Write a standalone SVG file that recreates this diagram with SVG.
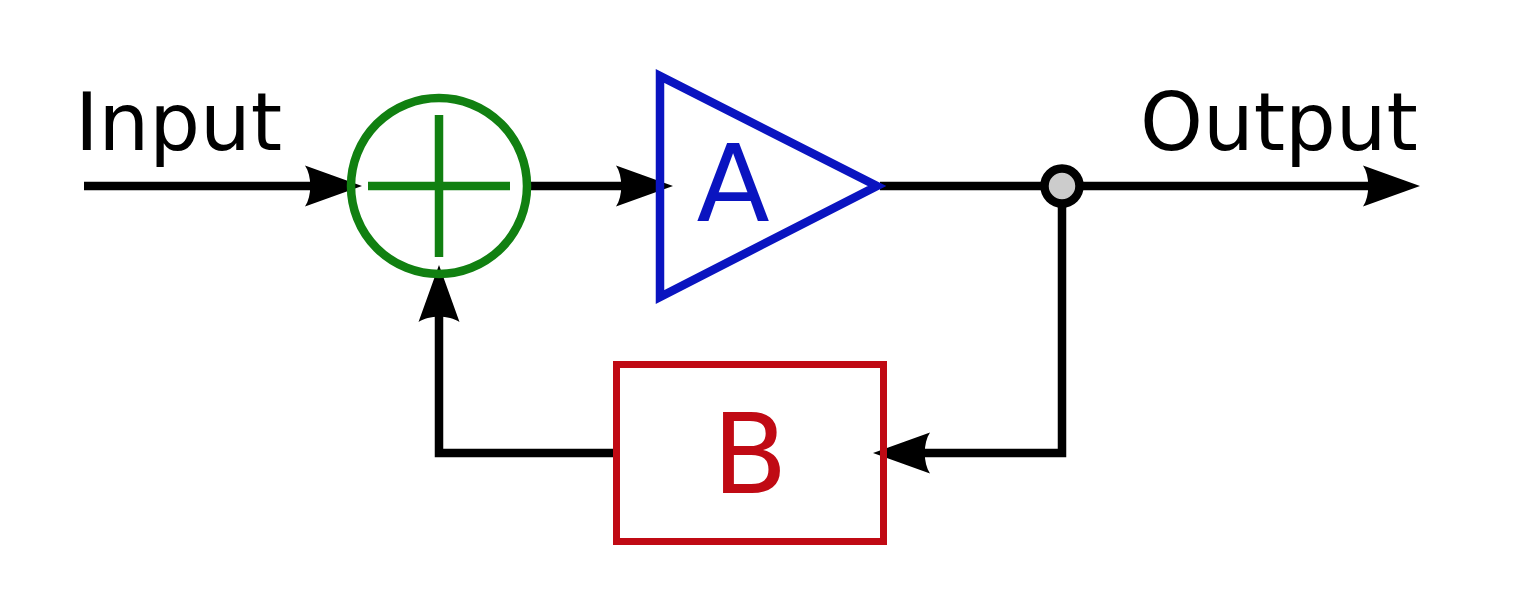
<svg xmlns="http://www.w3.org/2000/svg" width="1534" height="602" viewBox="0 0 1534 602">
<style>
.wire{fill:none;stroke:#000;stroke-width:8.5}
.lbl{font-family:"DejaVu Sans",sans-serif;font-size:80px;fill:#000}
</style>
<defs>
<marker id="arr" markerUnits="userSpaceOnUse" orient="auto" refX="0" refY="0" markerWidth="1" markerHeight="1" overflow="visible">
<path d="M20,0 L-37,-20.5 C-30,-10 -30,10 -37,20.5 Z" fill="#000"/>
</marker>
</defs>
<rect width="1534" height="602" fill="#fff"/>
<g id="connectors">
<path class="wire" d="M84,186 H342" marker-end="url(#arr)"/>
<path class="wire" d="M531,186 H653" marker-end="url(#arr)"/>
<path class="wire" d="M880,186 H1400" marker-end="url(#arr)"/>
<path class="wire" d="M1062,186 V453 H893" marker-end="url(#arr)"/>
<path class="wire" d="M616,453 H439 V285" marker-end="url(#arr)"/>
</g>
<g id="input-label"><text class="lbl" x="75" y="150">Input</text></g>
<g id="output-label"><text class="lbl" x="1140" y="150">Output</text></g>
<g id="sum">
<circle cx="439" cy="186" r="88" fill="none" stroke="#118011" stroke-width="8.5"/>
<path d="M368,186 H510 M439,115 V257" stroke="#118011" stroke-width="8.5" fill="none"/>
</g>
<g id="amp-A">
<polygon points="660,76 660,297 877,186" fill="none" stroke="#0a14c0" stroke-width="8.5"/>
<text x="733" y="221" text-anchor="middle" font-family="'DejaVu Sans',sans-serif" font-size="107" fill="#0a14c0">A</text>
</g>
<g id="junction">
<circle cx="1062" cy="186" r="17.5" fill="#cccccc" stroke="#000" stroke-width="8.5"/>
</g>
<g id="block-B">
<rect x="616.5" y="364.5" width="267" height="177" fill="none" stroke="#c00a14" stroke-width="7"/>
<text x="750" y="493" text-anchor="middle" font-family="'DejaVu Sans',sans-serif" font-size="110" fill="#c00a14">B</text>
</g>
</svg>
